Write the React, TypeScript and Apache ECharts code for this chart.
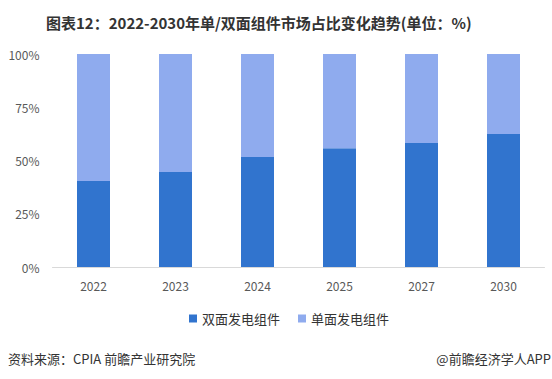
import React, { useEffect, useRef } from "react";
import * as echarts from "echarts";

const categories = ["2022", "2023", "2024", "2025", "2027", "2030"];
const bifacial = [40.4, 44.6, 51.6, 55.8, 58.2, 62.4];
const monofacial = [59.6, 55.4, 48.4, 44.2, 41.8, 37.6];
const seriesNames = ["双面发电组件", "单面发电组件"];
const titleText = "图表12：2022-2030年单/双面组件市场占比变化趋势(单位：%)";
const sourceText = "资料来源：CPIA 前瞻产业研究院";
const brandText = "@前瞻经济学人APP";

const FONT = "'Microsoft YaHei', 'Noto Sans CJK SC', sans-serif";

export default function App() {
  const ref = useRef<HTMLDivElement>(null);
  useEffect(() => {
    document.body.style.margin = "0";
    const chart = echarts.init(ref.current!, null, { renderer: "svg" });
    chart.setOption({
      animation: false,
      backgroundColor: "#ffffff",
      textStyle: { fontFamily: FONT },
      grid: { left: 52.5, right: 7.5, top: 54, bottom: 112 },
      legend: {
        data: seriesNames,
        left: 184,
        top: 307,
        icon: "rect",
        itemWidth: 8,
        itemHeight: 8,
        itemGap: 18,
        textStyle: { fontSize: 13, color: "#333333", fontFamily: FONT },
      },
      xAxis: {
        type: "category",
        data: categories,
        axisLine: { lineStyle: { color: "#d9d9d9" } },
        axisTick: { show: false },
        axisLabel: { color: "#595959", fontSize: 12, margin: 12, fontFamily: FONT },
      },
      yAxis: {
        type: "value",
        min: 0,
        max: 100,
        interval: 25,
        axisLine: { show: false },
        axisTick: { show: false },
        splitLine: { show: false },
        axisLabel: { color: "#595959", fontSize: 12, margin: 13, formatter: "{value}%", fontFamily: FONT },
      },
      graphic: [
        {
          type: "text",
          x: 46,
          y: 22,
          style: {
            text: titleText,
            fill: "#333333",
            font: `bold 15px ${FONT}`,
            textAlign: "left",
            textVerticalAlign: "middle",
          },
        },
        {
          type: "text",
          x: 8,
          y: 358,
          style: {
            text: sourceText,
            fill: "#333333",
            font: `13px ${FONT}`,
            textAlign: "left",
            textVerticalAlign: "middle",
          },
        },
        {
          type: "text",
          x: 551,
          y: 358,
          style: {
            text: brandText,
            fill: "#333333",
            font: `13px ${FONT}`,
            textAlign: "right",
            textVerticalAlign: "middle",
          },
        },
      ],
      series: [
        {
          name: seriesNames[0],
          type: "bar",
          stack: "total",
          barWidth: 33,
          data: bifacial,
          itemStyle: { color: "#3174CE" },
        },
        {
          name: seriesNames[1],
          type: "bar",
          stack: "total",
          barWidth: 33,
          data: monofacial,
          itemStyle: { color: "#8FABEE" },
        },
      ],
    });
    return () => chart.dispose();
  }, []);
  return <div ref={ref} style={{ width: 552, height: 379 }} />;
}
